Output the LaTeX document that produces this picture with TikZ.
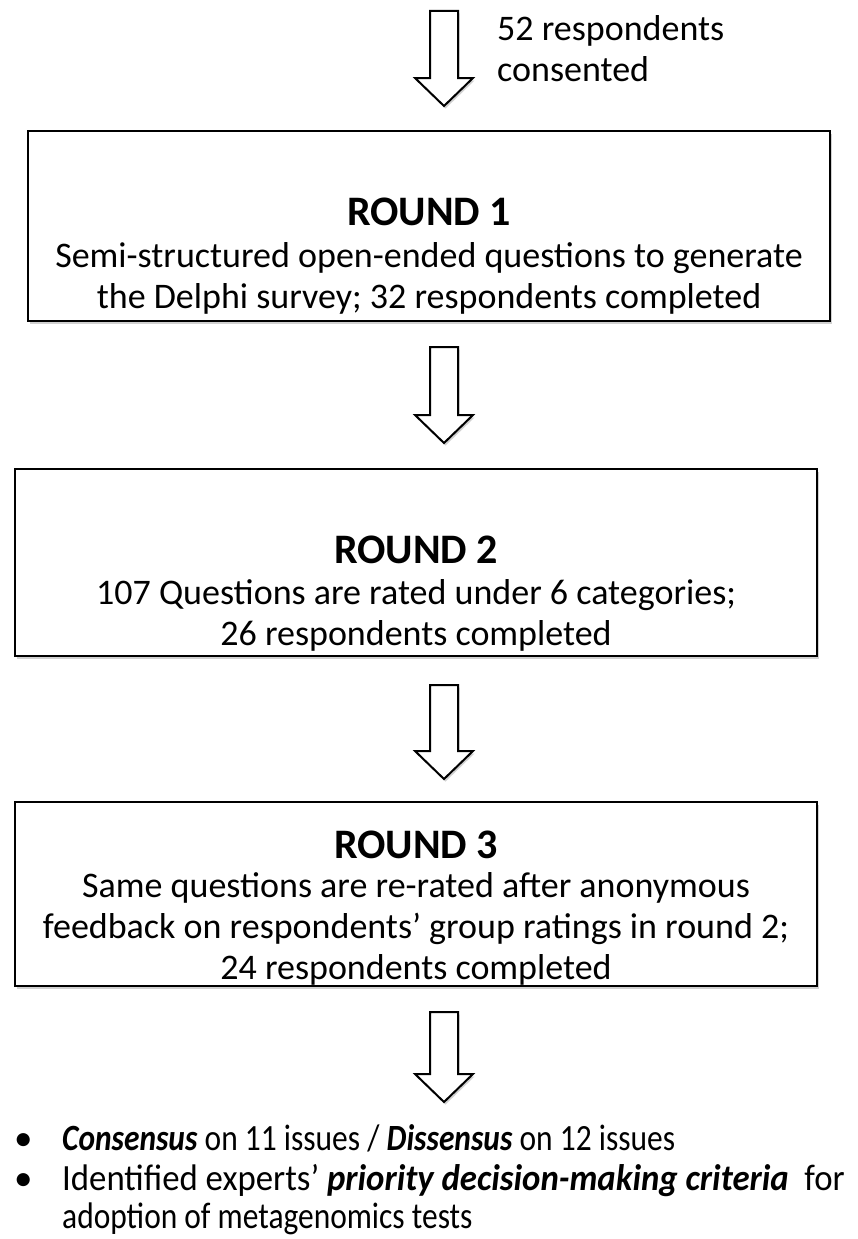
\documentclass[tikz,border=0pt]{standalone}
\usepackage{fontspec}
\setmainfont{Carlito}
\usetikzlibrary{shadows}
\tikzset{
  softshadow/.style={drop shadow={shadow xshift=1.5pt, shadow yshift=-2.5pt, opacity=0.18, fill=black}},
  roundbox/.style={draw=black, line width=2pt, fill=white, inner sep=0pt, minimum width=802pt, softshadow},
  titletext/.style={font=\fontsize{42}{48}\selectfont\bfseries, inner sep=0pt},
  bodytext/.style={font=\fontsize{36}{41}\selectfont, align=center, inner sep=0pt},
  bullettext/.style={font=\fontsize{37}{42}\selectfont, anchor=base west, inner sep=0pt},
  blockarrow/.style={draw=black, line width=2pt, fill=white, line join=miter, softshadow},
}
\newcommand\blockarr[3]{%
  \draw[blockarrow] (#1-14,#2) -- (#1+14,#2) -- (#1+14,#3-28) -- (#1+29,#3-28)
    -- (#1,#3) -- (#1-29,#3-28) -- (#1-14,#3-28) -- cycle;}
\newcommand\narrowtext[2]{\scalebox{#1}[1]{#2}}
\begin{document}
\begin{tikzpicture}[x=1pt,y=-1pt]
\useasboundingbox (0,0) rectangle (857,1239);

% top arrow and label
\blockarr{444}{11}{106}
\node[bodytext, align=left, anchor=west] (consent) at (497,49) {52 respondents\\consented};

% Round 1
\node[roundbox, minimum height=190pt] (r1) at (429,226) {};
\node[titletext] (r1t) at (429,212) {ROUND 1};
\node[bodytext] (r1b) at (429,278) {Semi-structured open-ended questions to generate\\the Delphi survey; 32 respondents completed};

\blockarr{444}{347}{443}

% Round 2
\node[roundbox, minimum height=187pt] (r2) at (416,562.5) {};
\node[titletext] (r2t) at (416,550) {ROUND 2};
\node[bodytext] (r2b) at (416,615.5) {107 Questions are rated under 6 categories;\\26 respondents completed};

\blockarr{444}{685}{779}

% Round 3
\node[roundbox, minimum height=184pt] (r3) at (416,894) {};
\node[titletext] (r3t) at (416,845) {ROUND 3};
\node[bodytext] (r3b) at (416,929) {Same questions are re-rated after anonymous\\feedback on respondents’ group ratings in round 2;\\24 respondents completed};

\blockarr{444}{1012}{1102}

% outcomes
\node[bullettext] (b1dot) at (14,1150) {•};
\node[bullettext] (b1) at (62,1150) {\narrowtext{0.85}{\textbf{\textit{Consensus}} on 11 issues / \textbf{\textit{Dissensus}} on 12 issues}};
\node[bullettext] (b2dot) at (14,1190) {•};
\node[bullettext] (b2) at (62,1190) {\narrowtext{0.94}{Identified experts’ \textbf{\textit{priority decision-making criteria}}\ \ for}};
\node[bullettext] (b3) at (62,1228) {\narrowtext{0.85}{adoption of metagenomics tests}};
\end{tikzpicture}
\end{document}
